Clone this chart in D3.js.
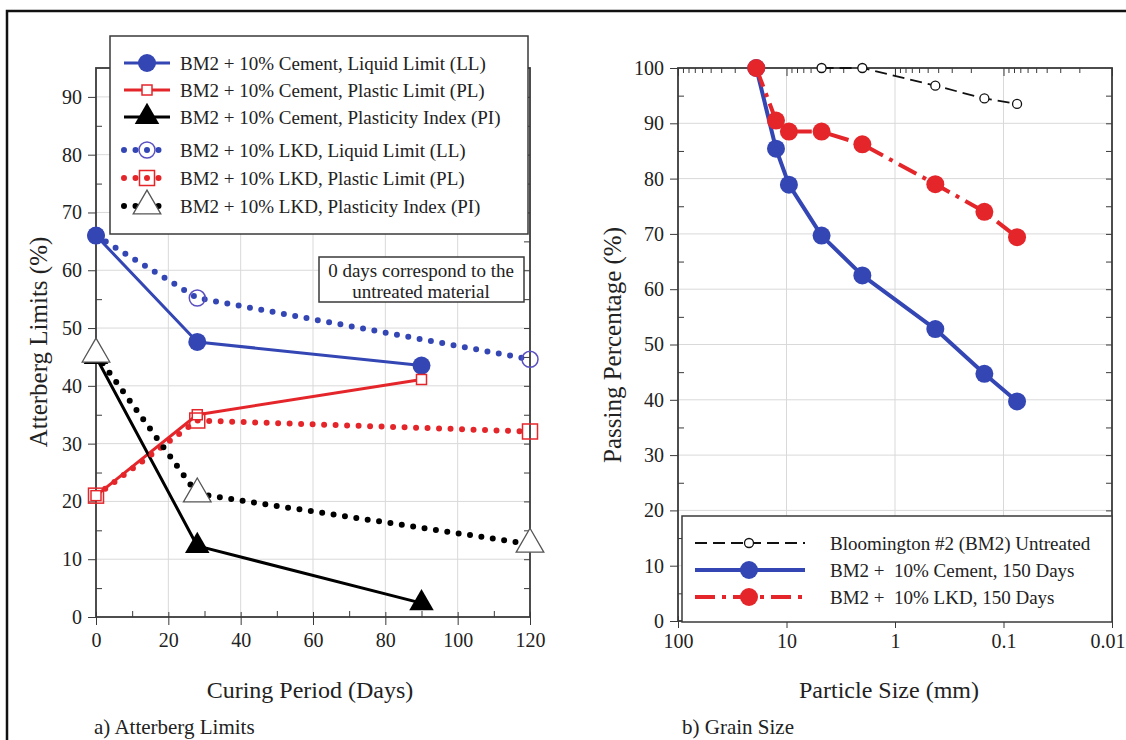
<!DOCTYPE html>
<html>
<head>
<meta charset="utf-8">
<script src="https://cdn.jsdelivr.net/npm/d3@7"></script>
<style>
    body { margin: 0; background: #fff; }
    svg { display: block; }
    svg text { font-family: "Liberation Serif", "Times New Roman", serif; white-space: pre; fill: #222; }
</style>
</head>
<body>
<svg id="chart" width="1126" height="740"></svg>
<script>
// ---- a) Atterberg limits ----
const cementDays = [0, 28, 90];
const lkdDays = [0, 28, 120];
const cementLL = [66, 47.6, 43.5];
const cementPL = [21, 35, 41.1];
const cementPI = [45, 12.3, 2.4];
const lkdLL = [66, 55.2, 44.6];
const lkdPL = [21, 34, 32.1];
const lkdPI = [45.5, 21.3, 12.6];
const atterbergLabels = [
    'BM2 + 10% Cement, Liquid Limit (LL)',
    'BM2 + 10% Cement, Plastic Limit (PL)',
    'BM2 + 10% Cement, Plasticity Index (PI)',
    'BM2 + 10% LKD, Liquid Limit (LL)',
    'BM2 + 10% LKD, Plastic Limit (PL)',
    'BM2 + 10% LKD, Plasticity Index (PI)'
];
const daysTicks = [0, 20, 40, 60, 80, 100, 120];
const limitTicks = [0, 10, 20, 30, 40, 50, 60, 70, 80, 90];

// ---- b) Grain size ----
const untreatedSize = [4.75, 2, 0.425, 0.15, 0.075];
const untreatedPass = [100, 100, 96.8, 94.5, 93.5];
const sieveSize = [19, 12.5, 9.5, 4.75, 2, 0.425, 0.15, 0.075];
const cementPass = [100, 85.4, 78.9, 69.7, 62.5, 52.8, 44.7, 39.7];
const lkdPass = [100, 90.5, 88.5, 88.5, 86.2, 79, 74, 69.4];
const grainLabels = [
    'Bloomington #2 (BM2) Untreated',
    'BM2 +  10% Cement, 150 Days',
    'BM2 +  10% LKD, 150 Days'
];
const sizeTicks = [100, 10, 1, 0.1, 0.01];
const sizeTickLabels = ['100', '10', '1', '0.1', '0.01'];
const passTicks = [0, 10, 20, 30, 40, 50, 60, 70, 80, 90, 100];

const BLUE = '#3346b4';
const RING = '#5a50c0';
const RED = '#e4262b';
const GRID = '#d9d9d9';
const AXIS = '#3a3a3a';
const SERIF = '"Liberation Serif", "Times New Roman", serif';

const svg = d3.select('#chart');

// outer frame of the figure
svg.append('path')
    .attr('d', 'M7,760 V11 H1140')
    .attr('fill', 'none')
    .attr('stroke', '#111')
    .attr('stroke-width', 2.5);

/**
 * Draw one marker symbol at (x, y)
 */
function marker(g, type, x, y, color) {
    const t = `translate(${x},${y})`;
    if (type === 'dot') {
        g.append('circle').attr('cx', x).attr('cy', y).attr('r', 9).attr('fill', color);
    } else if (type === 'ring') {
        g.append('circle').attr('cx', x).attr('cy', y).attr('r', 8)
            .attr('fill', 'none').attr('stroke', color).attr('stroke-width', 1.5);
    } else if (type === 'open') {
        g.append('circle').attr('cx', x).attr('cy', y).attr('r', 4.5)
            .attr('fill', '#fff').attr('stroke', '#111').attr('stroke-width', 1.3);
    } else if (type === 'square' || type === 'bigSquare') {
        const s = type === 'square' ? 10 : 15;
        g.append('rect').attr('x', x - s / 2).attr('y', y - s / 2).attr('width', s).attr('height', s)
            .attr('fill', type === 'square' ? '#fff' : 'none').attr('stroke', color).attr('stroke-width', 1.5);
    } else if (type === 'tri') {
        g.append('path').attr('transform', t).attr('d', d3.symbol(d3.symbolTriangle, 260)()).attr('fill', '#000');
    } else if (type === 'hollowTri') {
        g.append('path').attr('transform', t).attr('d', d3.symbol(d3.symbolTriangle, 330)())
            .attr('fill', '#fff').attr('stroke', '#555').attr('stroke-width', 1.3);
    }
}

function lineStyle(sel, s) {
    sel.attr('fill', 'none')
        .attr('stroke', s.color)
        .attr('stroke-width', s.width)
        .attr('stroke-linecap', s.dotted ? 'round' : 'butt')
        .attr('stroke-linejoin', 'round')
        .attr('stroke-dasharray', s.dash || null);
    return sel;
}

function styleTicks(g, size) {
    g.attr('font-family', SERIF).attr('font-size', size);
    g.selectAll('text').attr('font-family', SERIF).attr('font-size', size).style('fill', '#222');
    g.selectAll('line').attr('stroke', AXIS);
    g.select('.domain').remove();
}

// =============== panel a ===============
const A = { left: 96, right: 530, top: 68, bottom: 617 };
const xA = d3.scaleLinear().domain([0, 120]).range([A.left, A.right]);
const yA = d3.scaleLinear().domain([0, 95]).range([A.bottom, A.top]);

const gA = svg.append('g');

gA.append('g').selectAll('line').data(limitTicks.filter(d => d > 0)).join('line')
    .attr('x1', A.left).attr('x2', A.right).attr('y1', d => yA(d)).attr('y2', d => yA(d))
    .attr('stroke', GRID);
gA.append('g').selectAll('line').data(daysTicks.filter(d => d > 0 && d < 120)).join('line')
    .attr('y1', A.top).attr('y2', A.bottom).attr('x1', d => xA(d)).attr('x2', d => xA(d))
    .attr('stroke', GRID);

// minor ticks (inward)
gA.append('g').attr('transform', `translate(0,${A.bottom})`)
    .call(d3.axisTop(xA).tickValues(d3.range(10, 120, 20)).tickSize(6).tickFormat(''))
    .call(g => styleTicks(g, 0));
gA.append('g').attr('transform', `translate(${A.left},0)`)
    .call(d3.axisRight(yA).tickValues(d3.range(5, 95, 10)).tickSize(6).tickFormat(''))
    .call(g => styleTicks(g, 0));
gA.append('g').attr('transform', `translate(${A.right},0)`)
    .call(d3.axisLeft(yA).tickValues(d3.range(5, 96, 5)).tickSize(6).tickFormat(''))
    .call(g => styleTicks(g, 0));

// major ticks + labels
const axA = gA.append('g').attr('transform', `translate(0,${A.bottom})`)
    .call(d3.axisBottom(xA).tickValues(daysTicks).tickSize(8).tickPadding(8))
    .call(g => styleTicks(g, 20));
axA.selectAll('line').attr('y1', -5);
gA.append('g').attr('transform', `translate(${A.left},0)`)
    .call(d3.axisLeft(yA).tickValues(limitTicks).tickSize(8).tickPadding(6))
    .call(g => styleTicks(g, 20));

gA.append('rect')
    .attr('x', A.left).attr('y', A.top).attr('width', A.right - A.left).attr('height', A.bottom - A.top)
    .attr('fill', 'none').attr('stroke', AXIS).attr('stroke-width', 1.8);

const seriesA = [
    { x: cementDays, y: cementLL, color: BLUE, width: 3, marker: 'dot', mcolor: BLUE },
    { x: cementDays, y: cementPL, color: RED, width: 3, marker: 'square', mcolor: RED },
    { x: cementDays, y: cementPI, color: '#000', width: 3, marker: 'tri', mcolor: '#000' },
    { x: lkdDays, y: lkdLL, color: BLUE, width: 6, dotted: true, dash: '0 11.5', marker: 'ring', mcolor: RING },
    { x: lkdDays, y: lkdPL, color: RED, width: 6, dotted: true, dash: '0 11.5', marker: 'bigSquare', mcolor: RED },
    { x: lkdDays, y: lkdPI, color: '#000', width: 6, dotted: true, dash: '0 11.5', marker: 'hollowTri', mcolor: '#555' }
];

const lineA = d3.line().x(d => xA(d[0])).y(d => yA(d[1]));
seriesA.forEach(s => {
    lineStyle(gA.append('path').attr('d', lineA(d3.zip(s.x, s.y))), s);
});

// markers, in an order that keeps the overlaps of the original
const markersA = gA.append('g');
[3, 0, 1, 4, 2, 5].forEach(i => {
    const s = seriesA[i];
    s.x.forEach((d, j) => marker(markersA, s.marker, xA(d), yA(s.y[j]), s.mcolor));
});

// legend a
const legA = svg.append('g');
legA.append('rect').attr('x', 110).attr('y', 36).attr('width', 418).attr('height', 198)
    .attr('fill', '#fff').attr('stroke', AXIS).attr('stroke-width', 1.5);
const legRowsA = [63, 90, 117, 150, 178, 206];
seriesA.forEach((s, i) => {
    const y = legRowsA[i];
    lineStyle(legA.append('path').attr('d', `M124,${y} H170`), s);
    marker(legA, s.marker, 147, y, s.mcolor);
    legA.append('text').attr('x', 180).attr('y', y).attr('dy', '0.35em')
        .attr('font-size', 19).text(atterbergLabels[i]);
});

// note box
const note = svg.append('g');
note.append('rect').attr('x', 319).attr('y', 257).attr('width', 205).attr('height', 45)
    .attr('fill', '#fff').attr('stroke', AXIS).attr('stroke-width', 1.5);
note.append('text').attr('x', 421).attr('y', 270).attr('dy', '0.35em').attr('text-anchor', 'middle')
    .attr('font-size', 19).text('0 days correspond to the');
note.append('text').attr('x', 421).attr('y', 291).attr('dy', '0.35em').attr('text-anchor', 'middle')
    .attr('font-size', 19).text('untreated material');

svg.append('text').attr('transform', 'translate(47,342) rotate(-90)').attr('text-anchor', 'middle')
    .attr('font-size', 25).text('Atterberg Limits (%)');
svg.append('text').attr('x', 310).attr('y', 698).attr('text-anchor', 'middle')
    .attr('font-size', 24).text('Curing Period (Days)');
svg.append('text').attr('x', 94).attr('y', 734).attr('font-size', 21).text('a) Atterberg Limits');

// =============== panel b ===============
const B = { left: 678, right: 1112, top: 68, bottom: 621 };
const xB = d3.scaleLog().domain([100, 0.01]).range([B.left, B.right]);
const yB = d3.scaleLinear().domain([0, 100]).range([B.bottom, B.top]);

const gB = svg.append('g');

gB.append('g').selectAll('line').data(passTicks.filter(d => d > 0 && d < 100)).join('line')
    .attr('x1', B.left).attr('x2', B.right).attr('y1', d => yB(d)).attr('y2', d => yB(d))
    .attr('stroke', GRID);
gB.append('g').selectAll('line').data(sizeTicks.slice(1, -1)).join('line')
    .attr('y1', B.top).attr('y2', B.bottom).attr('x1', d => xB(d)).attr('x2', d => xB(d))
    .attr('stroke', GRID);

// log minor ticks along the top
const minorSizes = [];
[10, 1, 0.1, 0.01].forEach(dec => d3.range(2, 10).forEach(k => minorSizes.push(dec * k)));
gB.append('g').attr('transform', `translate(0,${B.top})`)
    .call(d3.axisBottom(xB).tickValues(minorSizes).tickSize(5).tickFormat(''))
    .call(g => styleTicks(g, 0));
gB.append('g').attr('transform', `translate(0,${B.top})`)
    .call(d3.axisBottom(xB).tickValues(sizeTicks).tickSize(8).tickFormat(''))
    .call(g => styleTicks(g, 0));
gB.append('g').attr('transform', `translate(${B.left},0)`)
    .call(d3.axisRight(yB).tickValues(d3.range(5, 100, 10)).tickSize(6).tickFormat(''))
    .call(g => styleTicks(g, 0));
gB.append('g').attr('transform', `translate(${B.right},0)`)
    .call(d3.axisLeft(yB).tickValues(d3.range(5, 100, 5)).tickSize(6).tickFormat(''))
    .call(g => styleTicks(g, 0));

const axB = gB.append('g').attr('transform', `translate(0,${B.bottom})`)
    .call(d3.axisBottom(xB).tickValues(sizeTicks).tickSize(7)
        .tickFormat((d, i) => sizeTickLabels[i]).tickPadding(6))
    .call(g => styleTicks(g, 20));
axB.selectAll('line').attr('y1', -5);
// the last label sits against the right edge of the page
axB.selectAll('text').filter(d => d === 0.01).attr('text-anchor', 'end').attr('x', 13);
gB.append('g').attr('transform', `translate(${B.left},0)`)
    .call(d3.axisLeft(yB).tickValues(passTicks).tickSize(8).tickPadding(6))
    .call(g => styleTicks(g, 20));

gB.append('rect')
    .attr('x', B.left).attr('y', B.top).attr('width', B.right - B.left).attr('height', B.bottom - B.top)
    .attr('fill', 'none').attr('stroke', AXIS).attr('stroke-width', 1.8);

const seriesB = [
    { x: untreatedSize, y: untreatedPass, color: '#111', width: 1.8, dash: '12 6', marker: 'open', mcolor: '#111' },
    { x: sieveSize, y: cementPass, color: BLUE, width: 4, marker: 'dot', mcolor: BLUE },
    { x: sieveSize, y: lkdPass, color: RED, width: 4, dash: '20 7 4 7', marker: 'dot', mcolor: RED }
];

const lineB = d3.line().x(d => xB(d[0])).y(d => yB(d[1]));
seriesB.forEach(s => {
    lineStyle(gB.append('path').attr('d', lineB(d3.zip(s.x, s.y))), s);
    s.x.forEach((d, j) => marker(gB, s.marker, xB(d), yB(s.y[j]), s.mcolor));
});

// legend b
const legB = svg.append('g');
legB.append('rect').attr('x', 682).attr('y', 516).attr('width', 430).attr('height', 106)
    .attr('fill', '#fff').attr('stroke', AXIS).attr('stroke-width', 1.5);
const legRowsB = [543, 570, 597];
seriesB.forEach((s, i) => {
    const y = legRowsB[i];
    lineStyle(legB.append('path').attr('d', `M695,${y} H805`), s);
    marker(legB, s.marker, 749, y, s.mcolor);
    legB.append('text').attr('x', 830).attr('y', y).attr('dy', '0.35em')
        .attr('font-size', 19).text(grainLabels[i]);
});

svg.append('text').attr('transform', 'translate(621,345) rotate(-90)').attr('text-anchor', 'middle')
    .attr('font-size', 25).text('Passing Percentage (%)');
svg.append('text').attr('x', 889).attr('y', 698).attr('text-anchor', 'middle')
    .attr('font-size', 24).text('Particle Size (mm)');
svg.append('text').attr('x', 682).attr('y', 734).attr('font-size', 21).text('b) Grain Size');
</script>
</body>
</html>
